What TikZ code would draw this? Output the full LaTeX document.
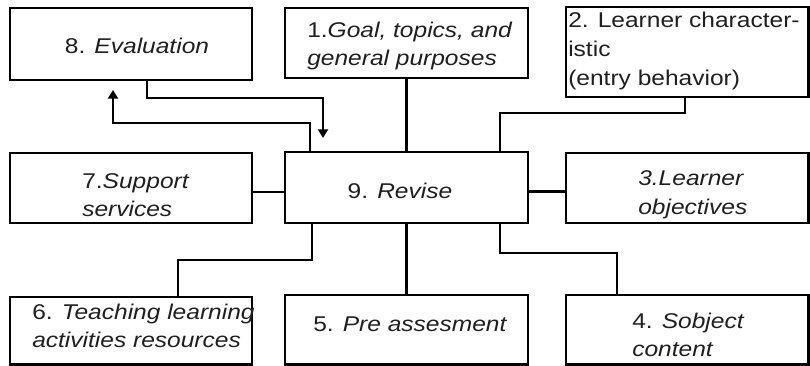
\documentclass[tikz,border=0pt]{standalone}
\usepackage{fontspec}
\setmainfont{Liberation Sans}[FakeStretch=1.15]
\usetikzlibrary{fit,arrows.meta}
\begin{document}
\begin{tikzpicture}[x=0.75pt,y=-0.75pt,
 box/.style={draw, line width=1.6pt, inner sep=0pt, rectangle},
 lbl/.style={inner sep=0pt, align=left, font=\fontsize{16}{21.5}\selectfont, text=black!88},
 conn/.style={line width=1.6pt},
 arr/.style={conn, -{Triangle[width=7.5pt,length=6.5pt]}}]
\useasboundingbox (0,0) rectangle (810,366);
% boxes
\node[box, fit={(10,8) (252,80)}] (b8) {};
\node[box, fit={(285,8) (528,78)}] (b1) {};
\node[box, fit={(566,7) (808.5,97)}] (b2) {};
\node[box, fit={(10,153) (252,223)}] (b7) {};
\node[box, fit={(285,152) (528,223)}] (b9) {};
\node[box, fit={(566,153) (808.5,223)}] (b3) {};
\node[box, fit={(10,297) (252,364.5)}] (b6) {};
\node[box, fit={(285,295) (528,364.5)}] (b5) {};
\node[box, fit={(566,295) (808.5,364.5)}] (b4) {};
% labels
\node[lbl] (t8) at (137,46) {8. \textit{Evaluation}};
\node[lbl, anchor=west] (t1) at (307,46) {1.\textit{Goal, topics, and}\\\textit{general purposes}};
\node[lbl, anchor=west] (t2) at (568,51) {2. Learner character-\\istic\\(entry behavior)};
\node[lbl, anchor=west] (t7) at (82,195) {7.\textit{Support}\\\textit{services}};
\node[lbl] (t9) at (400,191) {9. \textit{Revise}};
\node[lbl, anchor=west] (t3) at (638,195) {\textit{3.Learner}\\\textit{objectives}};
\node[lbl, anchor=west] (t6) at (32,326) {6. \textit{Teaching learning}\\\textit{activities resources}};
\node[lbl, anchor=west] (t5) at (313,324) {5. \textit{Pre assesment}};
\node[lbl, anchor=west] (t4) at (632,335) {4. \textit{Sobject}\\\textit{content}};
% bend coordinates
\coordinate (k8) at (323,98);
\coordinate (a1) at (323,138);
\coordinate (k9) at (113,123);
\coordinate (a2) at (113,90);
\coordinate (k2) at (500,113);
\coordinate (k6) at (178,260);
\coordinate (k4) at (617,253);
% connectors
\draw[arr] ([xshift=12pt]b8.south) |- (k8) -- (a1);
\draw[arr] ([xshift=-72.4pt]b9.north) |- (k9) -- (a2);
\draw[conn] (b1.south) -- (b9.north);
\draw[conn] ([xshift=-1.7pt]b2.south) |- (k2) -- (k2 |- b9.north);
\draw[conn] ([yshift=-3pt]b7.east) -- ([yshift=-3pt]b7.east -| b9.west);
\draw[conn] ([yshift=-3pt]b9.east) -- ([yshift=-3pt]b9.east -| b3.west);
\draw[conn] ([xshift=-70.9pt]b9.south) |- (k6) -- (k6 |- b6.north);
\draw[conn] (b9.south) -- (b5.north);
\draw[conn] ([xshift=70.1pt]b9.south) |- (k4) -- (k4 |- b4.north);
\end{tikzpicture}
\end{document}
